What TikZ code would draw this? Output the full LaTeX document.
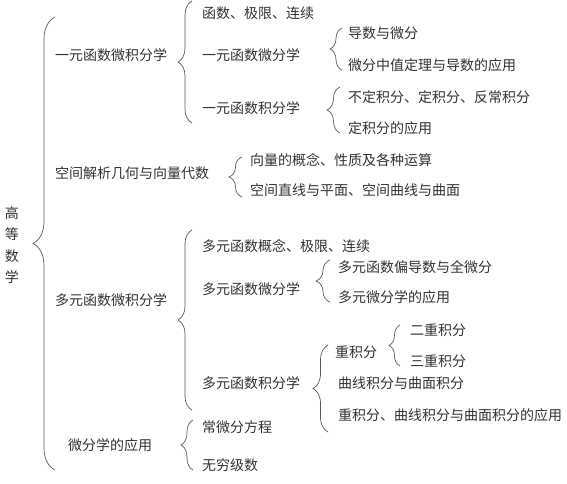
\documentclass[tikz,border=0pt]{standalone}
\usepackage{fontspec}
\setmainfont{Noto Sans CJK SC}
\usetikzlibrary{decorations.pathreplacing}
\definecolor{textgrau}{RGB}{50,50,50}
\definecolor{liniengrau}{RGB}{90,90,90}

\begin{document}
\begin{tikzpicture}[x=1pt, y=-1pt,
        eintrag/.style={anchor=west, inner sep=0pt, text=textgrau, font=\fontsize{14}{17}\selectfont},
        klammer/.style={decorate, decoration={brace, amplitude=#1}, draw=liniengrau, line width=0.7pt}]
        \useasboundingbox (0,0) rectangle (567,484);

        % Wurzel
        \node [eintrag, anchor=center, align=center, font=\fontsize{14}{21.5}\selectfont] (gaodeng) at (12,245) {高\\等\\数\\学};

        % erste Ebene
        \node [eintrag] (yiyuan) at (55,55) {一元函数微积分学};
        \node [eintrag] (kongjian) at (55,173) {空间解析几何与向量代数};
        \node [eintrag] (duoyuan) at (55,300) {多元函数微积分学};
        \node [eintrag] (yingyong) at (68,445) {微分学的应用};

        % zweite Ebene
        \node [eintrag] (jixian) at (202,13) {函数、极限、连续};
        \node [eintrag] (yiweifen) at (202,55) {一元函数微分学};
        \node [eintrag] (yijifen) at (202,108) {一元函数积分学};
        \node [eintrag] (xiangliang) at (250,160) {向量的概念、性质及各种运算};
        \node [eintrag] (zhixian) at (250,190) {空间直线与平面、空间曲线与曲面};
        \node [eintrag] (duojixian) at (202,246) {多元函数概念、极限、连续};
        \node [eintrag] (duoweifen) at (202,289) {多元函数微分学};
        \node [eintrag] (duojifen) at (202,383) {多元函数积分学};
        \node [eintrag] (fangcheng) at (202,427) {常微分方程};
        \node [eintrag] (jishu) at (202,465) {无穷级数};

        % dritte Ebene
        \node [eintrag] (daoshu) at (348,33) {导数与微分};
        \node [eintrag] (zhongzhi) at (348,65) {微分中值定理与导数的应用};
        \node [eintrag] (budingjifen) at (348,97) {不定积分、定积分、反常积分};
        \node [eintrag] (dingjifen) at (348,128) {定积分的应用};
        \node [eintrag] (piandao) at (338,267) {多元函数偏导数与全微分};
        \node [eintrag] (duoyingyong) at (338,297) {多元微分学的应用};
        \node [eintrag] (chongjifen) at (335,352) {重积分};
        \node [eintrag] (quxian) at (338,383) {曲线积分与曲面积分};
        \node [eintrag] (jifenyingyong) at (338,415) {重积分、曲线积分与曲面积分的应用};

        % vierte Ebene
        \node [eintrag] (erchong) at (410,330) {二重积分};
        \node [eintrag] (sanchong) at (410,361) {三重积分};

        % Klammern
        \foreach \name/\x/\oben/\unten/\amp in {k0/55/17/470/22, k1/192/1/123/14, k2/342/28/70/12, k3/340/87/133/13, k4/242/157/197/13, k5/192/230/410/14, k6/330/260/302/14, k7/328/345/432/15, k8/400/325/366/11, k9/193/420/470/12}
        {
            \coordinate (\name o) at (\x,\oben);
            \coordinate (\name u) at (\x,\unten);
            \draw [klammer=\amp] (\name u) -- (\name o);
        }

\end{tikzpicture}
\end{document}
